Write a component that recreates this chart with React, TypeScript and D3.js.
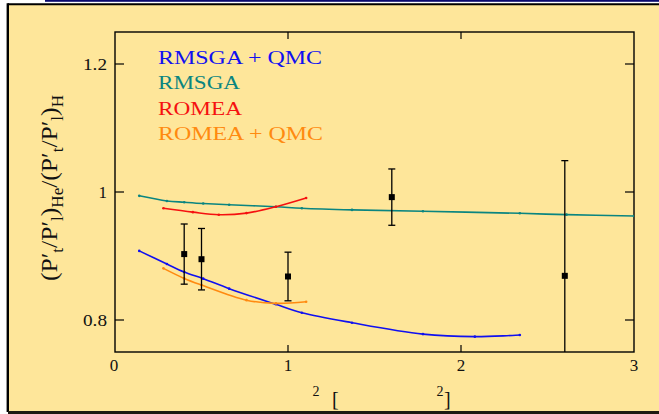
import React from "react";
import * as d3 from "d3";

const rmsgaX = [0.14, 0.30, 0.40, 0.51, 0.66, 0.93, 1.08, 1.37, 1.78, 2.34, 2.61, 3.0];
const rmsgaY = [0.994, 0.986, 0.984, 0.982, 0.980, 0.977, 0.9745, 0.972, 0.970, 0.9667, 0.9646, 0.9625];
const rmsgaQmcX = [0.14, 0.30, 0.40, 0.51, 0.66, 0.93, 1.08, 1.37, 1.78, 2.08, 2.34];
const rmsgaQmcY = [0.908, 0.8875, 0.875, 0.8646, 0.849, 0.8245, 0.8114, 0.7958, 0.778, 0.774, 0.7766];
const romeaX = [0.28, 0.45, 0.60, 0.76, 0.93, 1.105];
const romeaY = [0.9745, 0.9685, 0.9645, 0.967, 0.977, 0.9906];
const romeaQmcX = [0.28, 0.40, 0.50, 0.76, 0.93, 1.105];
const romeaQmcY = [0.8807, 0.865, 0.8547, 0.831, 0.826, 0.8286];

const dataX = [0.4, 0.5, 1.0, 1.6, 2.6];
const dataY = [0.903, 0.895, 0.868, 0.992, 0.869];
const dataErr = [0.047, 0.048, 0.038, 0.044, 0.18];

const xTicks = [0, 1, 2, 3];
const yTicks = [0.8, 1, 1.2];
const yTickLabels = ["0.8", "1", "1.2"];

const legendNames = ["RMSGA + QMC", "RMSGA", "ROMEA", "ROMEA + QMC"];
const legendColors = ["#1010f0", "#0a8580", "#f51010", "#ff8a10"];
const legendWidths = [164, 82, 84, 165];

const series = [
  { xs: rmsgaQmcX, ys: rmsgaQmcY, color: legendColors[0] },
  { xs: rmsgaX, ys: rmsgaY, color: legendColors[1] },
  { xs: romeaX, ys: romeaY, color: legendColors[2] },
  { xs: romeaQmcX, ys: romeaQmcY, color: legendColors[3] },
];

const L = 115, R = 634, T = 32, B = 352;

export default function App() {
  const x = d3.scaleLinear().domain([0, 3]).range([L, R]);
  const y = d3.scaleLinear().domain([0.75, 1.25]).range([B, T]);
  const line = d3
    .line<[number, number]>()
    .x((d) => x(d[0]))
    .y((d) => y(d[1]))
    .curve(d3.curveCatmullRom.alpha(0.5));
  const serif = "'Liberation Serif', 'Times New Roman', serif";
  const sub = 16;
  const dy = 6;
  return (
    <div style={{ position: "fixed", left: 0, top: 0 }}>
      <svg width={659} height={414} style={{ display: "block", background: "#fff" }}>
        <defs>
          <clipPath id="plot">
            <rect x={L} y={T} width={R - L} height={B - T} />
          </clipPath>
        </defs>
        <rect x={45} y={0} width={614} height={1.8} fill="#0a0a6e" />
        <rect x={8} y={4} width={651} height={408} fill="#fee69a" />
        <line x1={7.8} x2={659} y1={4.3} y2={4.3} stroke="#000" strokeWidth={2} />
        <line x1={7.8} x2={7.8} y1={3.3} y2={412} stroke="#000" strokeWidth={2.4} />

        {/* plot frame */}
        <rect x={L} y={T} width={R - L} height={B - T} fill="none" stroke="#000" strokeWidth={1.4} />
        {xTicks.filter((t) => t > 0 && t < 3).map((t) => (
          <g key={"xt" + t}>
            <line x1={x(t)} x2={x(t)} y1={B} y2={B - 7} stroke="#000" strokeWidth={1.2} />
            <line x1={x(t)} x2={x(t)} y1={T} y2={T + 7} stroke="#000" strokeWidth={1.2} />
          </g>
        ))}
        {yTicks.map((t) => (
          <g key={"yt" + t}>
            <line x1={L} x2={L + 9} y1={y(t)} y2={y(t)} stroke="#000" strokeWidth={1.2} />
            <line x1={R} x2={R - 9} y1={y(t)} y2={y(t)} stroke="#000" strokeWidth={1.2} />
          </g>
        ))}
        {xTicks.map((t) => (
          <text key={"xl" + t} x={x(t) - (t === 0 ? 1 : 0)} y={371} textAnchor="middle" fontFamily={serif} fontSize={17} fill="#111">
            {t}
          </text>
        ))}
        {yTicks.map((t, i) => (
          <text
            key={"yl" + t}
            x={107}
            y={y(t) + 5.5}
            textAnchor="end"
            fontFamily={serif}
            fontSize={17}
            fill="#111"
            textLength={yTickLabels[i].length > 1 ? 24 : undefined}
            lengthAdjust="spacingAndGlyphs"
          >
            {yTickLabels[i]}
          </text>
        ))}

        {/* curves */}
        <g clipPath="url(#plot)">
          {series.map((s, i) => {
            const pts = s.xs.map((v, j) => [v, s.ys[j]] as [number, number]);
            return (
              <g key={"s" + i}>
                <path d={line(pts) || ""} fill="none" stroke={s.color} strokeWidth={1.6} />
                {pts.map((p, j) => (
                  <circle key={j} cx={x(p[0])} cy={y(p[1])} r={1.3} fill={s.color} />
                ))}
              </g>
            );
          })}
          {dataX.map((v, i) => {
            const cx = x(v);
            const y0 = y(dataY[i] - dataErr[i]);
            const y1 = y(dataY[i] + dataErr[i]);
            return (
              <g key={"d" + i}>
                <line x1={cx} x2={cx} y1={y0} y2={y1} stroke="#000" strokeWidth={1.3} />
                <line x1={cx - 3.5} x2={cx + 3.5} y1={y0} y2={y0} stroke="#000" strokeWidth={1.3} />
                <line x1={cx - 3.5} x2={cx + 3.5} y1={y1} y2={y1} stroke="#000" strokeWidth={1.3} />
                <rect x={cx - 3} y={y(dataY[i]) - 3} width={6} height={6} fill="#000" />
              </g>
            );
          })}
        </g>

        {/* legend */}
        {legendNames.map((n, i) => (
          <text
            key={n}
            x={158}
            y={64 + i * 25.3}
            fontFamily={serif}
            fontSize={18}
            fill={legendColors[i]}
            textLength={legendWidths[i]}
            lengthAdjust="spacingAndGlyphs"
          >
            {n}
          </text>
        ))}

        {/* y axis title */}
        <text
          transform="translate(57,281) rotate(-90)"
          fontFamily={serif}
          fontSize={24}
          fill="#111"
          textLength={186}
          lengthAdjust="spacingAndGlyphs"
        >
          <tspan>(P′</tspan>
          <tspan fontSize={sub} dy={dy}>t</tspan>
          <tspan dy={-dy}>/P′</tspan>
          <tspan fontSize={sub} dy={dy}>l</tspan>
          <tspan dy={-dy}>)</tspan>
          <tspan fontSize={sub} dy={dy}>He</tspan>
          <tspan dy={-dy}>/(P′</tspan>
          <tspan fontSize={sub} dy={dy}>t</tspan>
          <tspan dy={-dy}>/P′</tspan>
          <tspan fontSize={sub} dy={dy}>l</tspan>
          <tspan dy={-dy}>)</tspan>
          <tspan fontSize={sub} dy={dy}>H</tspan>
        </text>

        {/* x axis title (partially rendered) */}
        <text x={316} y={396} textAnchor="middle" fontFamily={serif} fontSize={14} fill="#111">2</text>
        <text x={332} y={406} fontFamily={serif} fontSize={20} fill="#111">[</text>
        <text x={440} y={396} textAnchor="middle" fontFamily={serif} fontSize={14} fill="#111">2</text>
        <text x={444} y={406} fontFamily={serif} fontSize={20} fill="#111">]</text>

        <rect x={8} y={411} width={651} height={3} fill="#1e1a12" />
      </svg>
    </div>
  );
}
